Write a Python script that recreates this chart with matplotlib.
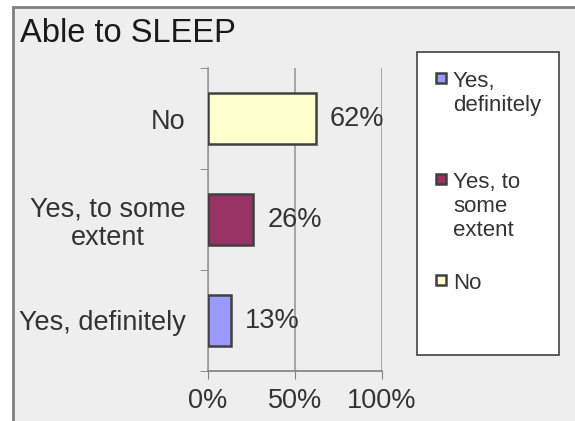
import matplotlib.pyplot as plt
from matplotlib.patches import Rectangle

# data (bottom to top)
categories = ["Yes, definitely", "Yes, to some\nextent", "No"]
values = [13, 26, 62]
colors = ["#9999FF", "#993366", "#FFFFCC"]
legend_labels = ["Yes,\ndefinitely", "Yes, to\nsome\nextent", "No"]
xticks = [0, 50, 100]

txt = "#333333"
fs = 19.5
plt.rcParams['font.family'] = ['Liberation Sans', 'DejaVu Sans']

fig = plt.figure(figsize=(5.75, 4.21), dpi=100)
fig.patch.set_facecolor("white")

# outer chart frame
W, H = 575.0, 421.0
fig.patches.append(Rectangle((13 / W, -0.05), 1.0, 1 - 7 / H + 0.05,
                             transform=fig.transFigure, facecolor="#EEEEEE",
                             edgecolor="#808080", linewidth=2, zorder=-5))

fig.text(20 / W, 1 - 42 / H, "Able to SLEEP", fontsize=23.5, color="#1a1a1a",
         ha="left", va="baseline")

ax = fig.add_axes([208 / W, 1 - 371 / H, 174 / W, 303 / H])
ax.set_facecolor("none")
ax.set_zorder(1)

y = range(len(categories))
ax.barh(y, values, height=0.5, color=colors, edgecolor="#404040",
        linewidth=1.8, zorder=3)
for i, v in enumerate(values):
    ax.text(v + 8, i, f"{v}%", va="center", ha="left", fontsize=fs,
            color=txt, zorder=4)

ax.set_xlim(0, 100)
ax.set_ylim(-0.5, len(categories) - 0.5)
ax.set_xticks(xticks)
ax.set_xticklabels([f"{t}%" for t in xticks], fontsize=fs, color=txt)
ax.tick_params(axis="x", length=6, color="#808080", pad=6)
ax.xaxis.grid(True, color="#999999", linewidth=1.2, zorder=1)

ax.set_yticks(list(y))
ax.set_yticklabels(categories, fontsize=fs, color=txt,
                   multialignment="center", linespacing=1.1)
ax.tick_params(axis="y", length=0, pad=16)
ax.set_yticks([i - 0.5 for i in range(len(categories) + 1)], minor=True)
ax.tick_params(axis="y", which="minor", length=6, color="#808080")

for s in ["top", "right"]:
    ax.spines[s].set_visible(False)
ax.spines["left"].set_color("#999999")
ax.spines["bottom"].set_color("#808080")
ax.spines["left"].set_linewidth(1.2)
ax.spines["bottom"].set_linewidth(1.2)

# legend box
lx0, lx1, ly0, ly1 = 417 / W, 559 / W, 1 - 355 / H, 1 - 52 / H
fig.patches.append(Rectangle((lx0, ly0), lx1 - lx0, ly1 - ly0,
                             transform=fig.transFigure, facecolor="white",
                             edgecolor="#404040", linewidth=1.2, zorder=2))
sq = 10
for k, (lab, c) in enumerate(zip(legend_labels, colors)):
    yc = 78 + k * 101
    fig.patches.append(Rectangle((436 / W, 1 - (yc + sq / 2) / H), sq / W, sq / H,
                                 transform=fig.transFigure, facecolor=c,
                                 edgecolor="#404040", linewidth=1.8, zorder=3))
    fig.text(453 / W, 1 - (yc - 7) / H, lab, fontsize=16, color=txt,
             ha="left", va="top", linespacing=1.2, zorder=4)

fig.savefig("out.png", dpi=100)
